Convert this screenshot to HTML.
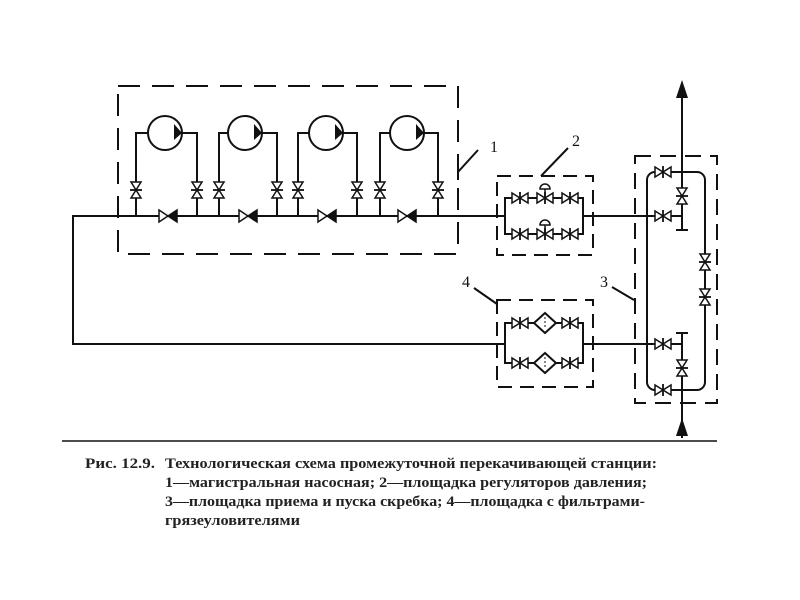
<!DOCTYPE html>
<html><head><meta charset="utf-8"><style>body{margin:0;background:#fff}svg{display:block}</style></head><body>
<svg width="800" height="600" viewBox="0 0 800 600" xmlns="http://www.w3.org/2000/svg">
<defs>
<g id="vv"><polygon points="-5,-8 5,-8 0,0" fill="#fff" stroke="#111" stroke-width="1.5"/><polygon points="-5,8 5,8 0,0" fill="#fff" stroke="#111" stroke-width="1.5"/><line x1="-6" y1="0" x2="6" y2="0" stroke="#111" stroke-width="1.8"/></g>
<g id="hv"><polygon points="-8,-5 -8,5 0,0" fill="#fff" stroke="#111" stroke-width="1.5"/><polygon points="8,-5 8,5 0,0" fill="#fff" stroke="#111" stroke-width="1.5"/><line x1="0" y1="-6" x2="0" y2="6" stroke="#111" stroke-width="1.8"/></g>
<g id="hvf"><polygon points="-8,-5 -8,5 0,0" fill="#111" stroke="#111" stroke-width="1.5"/><polygon points="8,-5 8,5 0,0" fill="#fff" stroke="#111" stroke-width="1.5"/></g>
<g id="ck"><polygon points="-9,-6 -9,6 0,0" fill="#fff" stroke="#111" stroke-width="1.5"/><polygon points="9,-6 9,6 0,0" fill="#111" stroke="#111" stroke-width="1.5"/></g>
<g id="pump"><circle r="17" fill="#fff" stroke="#111" stroke-width="2"/><polygon points="9,-9 17,0 9,7" fill="#111"/></g>
</defs>
<g fill="none" stroke="#111" stroke-width="2">
<!-- dashed boxes -->
<rect x="118" y="86" width="340" height="168" stroke-dasharray="22,12"/>
<rect x="497" y="176" width="96" height="79" stroke-dasharray="14,8"/>
<rect x="497" y="300" width="96" height="87" stroke-dasharray="14,8"/>
<rect x="635" y="156" width="82" height="247" stroke-dasharray="16,9"/>
<!-- main lines -->
<polyline points="500,216 73,216 73,344 505,344"/>
<line x1="505" y1="216" x2="500" y2="216"/>
<!-- pump branches -->
<polyline points="148,133 136,133 136,216"/><polyline points="182,133 197,133 197,216"/>
<polyline points="228,133 219,133 219,216"/><polyline points="262,133 277,133 277,216"/>
<polyline points="309,133 298,133 298,216"/><polyline points="343,133 357,133 357,216"/>
<polyline points="390,133 380,133 380,216"/><polyline points="424,133 438,133 438,216"/>
<!-- box2 loop -->
<rect x="505" y="198" width="78" height="36"/>
<line x1="583" y1="216" x2="647" y2="216"/>
<!-- box4 loop -->
<rect x="505" y="323" width="78" height="40"/>
<line x1="583" y1="344" x2="647" y2="344"/>
<!-- box3 -->
<rect x="647" y="172" width="58" height="218" rx="8"/>
<line x1="682" y1="95" x2="682" y2="172"/>
<line x1="682" y1="390" x2="682" y2="438"/>
<line x1="647" y1="216" x2="682" y2="216"/>
<line x1="682" y1="172" x2="682" y2="230"/><line x1="676" y1="230" x2="688" y2="230"/>
<line x1="647" y1="344" x2="682" y2="344"/>
<line x1="682" y1="333" x2="682" y2="390"/><line x1="676" y1="333" x2="688" y2="333"/>
<!-- leaders -->
<polyline points="478,150 458,172 458,180"/>
<polyline points="568,148 541,176"/>
<polyline points="612,287 634,300"/>
<polyline points="474,288 497,304"/>
<line x1="62" y1="441" x2="717" y2="441" stroke-width="1.5"/>
</g>
<polygon points="682,80 676,98 688,98" fill="#111"/>
<polygon points="682,418 676,436 688,436" fill="#111"/>
<use href="#pump" x="165" y="133"/><use href="#pump" x="245" y="133"/><use href="#pump" x="326" y="133"/><use href="#pump" x="407" y="133"/>
<use href="#vv" x="136" y="190"/><use href="#vv" x="197" y="190"/><use href="#vv" x="219" y="190"/><use href="#vv" x="277" y="190"/>
<use href="#vv" x="298" y="190"/><use href="#vv" x="357" y="190"/><use href="#vv" x="380" y="190"/><use href="#vv" x="438" y="190"/>
<use href="#ck" x="168" y="216"/><use href="#ck" x="248" y="216"/><use href="#ck" x="327" y="216"/><use href="#ck" x="407" y="216"/>
<!-- box2 valves -->
<use href="#hv" x="520" y="198"/><use href="#hv" x="545" y="198"/><use href="#hv" x="570" y="198"/>
<use href="#hv" x="520" y="234"/><use href="#hv" x="545" y="234"/><use href="#hv" x="570" y="234"/>
<line x1="545" y1="198" x2="545" y2="188" stroke="#111" stroke-width="1.5"/><path d="M540,189 a5,5 0 0 1 10,0 z" fill="#fff" stroke="#111" stroke-width="1.5"/>
<line x1="545" y1="234" x2="545" y2="224" stroke="#111" stroke-width="1.5"/><path d="M540,225 a5,5 0 0 1 10,0 z" fill="#fff" stroke="#111" stroke-width="1.5"/>
<!-- box4 valves & filters -->
<use href="#hv" x="520" y="323"/><use href="#hv" x="570" y="323"/>
<use href="#hv" x="520" y="363"/><use href="#hv" x="570" y="363"/>
<polygon points="545,313 556,323 545,333 534,323" fill="#fff" stroke="#111" stroke-width="2"/>
<polygon points="545,353 556,363 545,373 534,363" fill="#fff" stroke="#111" stroke-width="2"/>
<line x1="545" y1="317" x2="545" y2="329" stroke="#111" stroke-width="1" stroke-dasharray="2,2"/>
<line x1="545" y1="357" x2="545" y2="369" stroke="#111" stroke-width="1" stroke-dasharray="2,2"/>
<!-- box3 valves -->
<use href="#hv" x="663" y="172"/><use href="#hv" x="663" y="216"/><use href="#hv" x="663" y="344"/><use href="#hv" x="663" y="390"/>
<use href="#vv" x="682" y="196"/><use href="#vv" x="682" y="368"/>
<use href="#vv" x="705" y="262"/><use href="#vv" x="705" y="297"/>
<g font-family="Liberation Serif, serif" font-size="16" fill="#111">
<text x="490" y="152">1</text><text x="572" y="146">2</text><text x="600" y="287">3</text><text x="462" y="287">4</text>
</g>
<g font-family="Liberation Serif, serif" font-size="15" fill="#222" font-weight="bold">
<text x="85" y="468" textLength="70" lengthAdjust="spacingAndGlyphs">Рис. 12.9.</text>
<text x="165" y="468" textLength="492" lengthAdjust="spacingAndGlyphs">Технологическая схема промежуточной перекачивающей станции:</text>
<text x="165" y="487" textLength="482" lengthAdjust="spacingAndGlyphs">1—магистральная насосная; 2—площадка регуляторов давления;</text>
<text x="165" y="506" textLength="480" lengthAdjust="spacingAndGlyphs">3—площадка приема и пуска скребка; 4—площадка с фильтрами-</text>
<text x="165" y="525" textLength="135" lengthAdjust="spacingAndGlyphs">грязеуловителями</text>
</g>
</svg>
</body></html>
